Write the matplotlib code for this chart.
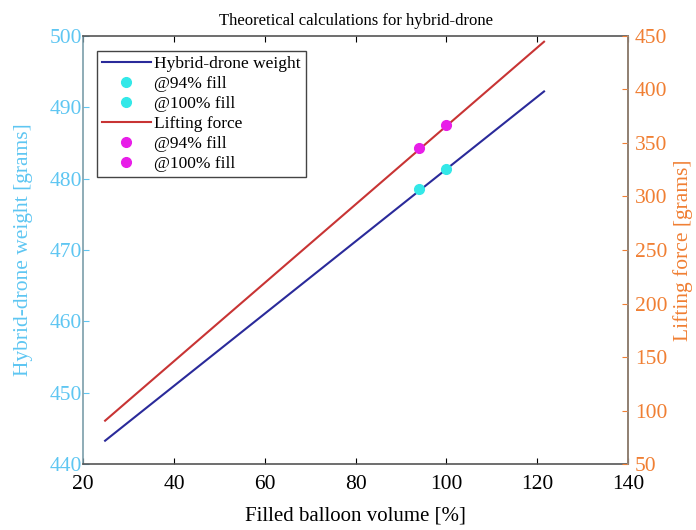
import numpy as np
import matplotlib
matplotlib.use("Agg")
from matplotlib import pyplot as plt

plt.rcParams['font.family'] = ['Liberation Serif', 'DejaVu Serif']

# filled balloon volume [%] for the two theoretical lines
volume = [24.8, 121.5]
weight = [443.3, 492.2]        # hybrid-drone weight [grams]
lift = [90.7, 444.4]           # lifting force [grams]

# operating points
fill_pts = [94, 100]
weight_pts = [478.5, 481.3]
lift_pts = [344.9, 366.7]

xticks = [20, 40, 60, 80, 100, 120, 140]
left_ticks = [440, 450, 460, 470, 480, 490, 500]
right_ticks = [50, 100, 150, 200, 250, 300, 350, 400, 450]

c_left = '#5ec6f2'
c_right = '#f07f33'

fig = plt.figure(figsize=(6.96, 5.30), dpi=100)
ax = fig.add_axes([0.1197, 0.124, 0.7826, 0.8086])
ax2 = ax.twinx()

h1, = ax.plot(volume, weight, color='#2a2a9a', lw=1.5, label='Hybrid-drone weight')
h2, = ax.plot([fill_pts[0]], [weight_pts[0]], 'o', color='#33e8e8', ms=7, ls='none', label='@94% fill')
h3, = ax.plot([fill_pts[1]], [weight_pts[1]], 'o', color='#33e8e8', ms=7, ls='none', label='@100% fill')
h4, = ax2.plot(volume, lift, color='#c83434', lw=1.5, label='Lifting force')
h5, = ax2.plot([fill_pts[0]], [lift_pts[0]], 'o', color='#e81ee8', ms=7, ls='none', label='@94% fill')
h6, = ax2.plot([fill_pts[1]], [lift_pts[1]], 'o', color='#e81ee8', ms=7, ls='none', label='@100% fill')

ax.set_xlim(20, 140)
ax.set_ylim(440, 500)
ax2.set_ylim(50, 450)
ax.set_xticks(xticks)
ax.set_yticks(left_ticks)
ax2.set_yticks(right_ticks)

ax.tick_params(axis='x', direction='in', top=True, length=4, labelsize=15.5, colors='black', pad=8)
ax.tick_params(axis='y', direction='in', length=4, labelsize=15.5, colors=c_left, pad=1)
ax2.tick_params(axis='y', direction='in', length=4, labelsize=15.5, colors=c_right, pad=5)

ax.spines['left'].set_color('#7c9eaa')
ax.spines['bottom'].set_color('#555555')
ax.spines['top'].set_color('#555555')
ax2.spines['right'].set_color('#a89484')
for sp in ax2.spines.values():
    sp.set_linewidth(1.2)
for sp in ax.spines.values():
    sp.set_linewidth(1.2)
ax2.spines['left'].set_visible(False)
ax2.spines['top'].set_visible(False)
ax2.spines['bottom'].set_visible(False)

ax.set_xlabel('Filled balloon volume [%]', fontsize=15, labelpad=9)
ax.set_ylabel('Hybrid-drone weight [grams]', fontsize=15.5, color=c_left, labelpad=12)
ax2.set_ylabel('Lifting force [grams]', fontsize=15.5, color=c_right, labelpad=4)
ax.set_title('Theoretical calculations for hybrid-drone', fontsize=12, pad=8)

leg = ax2.legend(handles=[h1, h2, h3, h4, h5, h6], loc='upper left',
                 bbox_to_anchor=(0.025, 0.965), fontsize=12.5, fancybox=False,
                 edgecolor='#444444', framealpha=1, borderpad=0.3,
                 labelspacing=0.22, handlelength=2.8, handletextpad=0.2,
                 borderaxespad=0)
leg.get_frame().set_linewidth(1.0)

fig.savefig('out.png', dpi=100)
